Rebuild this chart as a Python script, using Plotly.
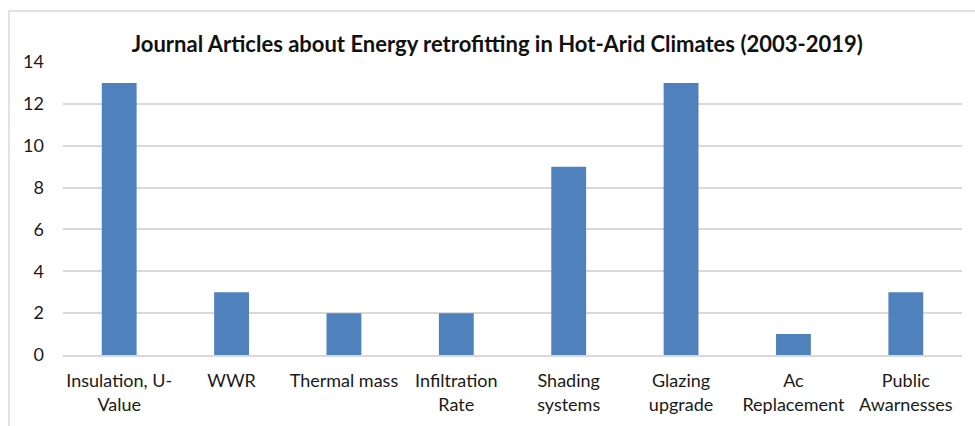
import plotly.graph_objects as go

categories = ["Insulation, U-<br>Value", "WWR", "Thermal mass", "Infiltration<br>Rate",
              "Shading<br>systems", "Glazing<br>upgrade", "Ac<br>Replacement", "Public<br>Awarnesses"]
values = [13, 3, 2, 2, 9, 13, 1, 3]
y_ticks = [0, 2, 4, 6, 8, 10, 12, 14]

fig = go.Figure()
fig.add_trace(go.Bar(x=categories, y=values, marker=dict(color="#4F81BD", line=dict(width=0)),
                     hoverinfo="x+y"))

font_family = "Lato, 'Open Sans', sans-serif"
fig.update_layout(
    width=975, height=426,
    margin=dict(l=63, r=13, t=62, b=71),
    paper_bgcolor="white", plot_bgcolor="white",
    bargap=0.69,
    showlegend=False,
    title=dict(text="<b>Journal Articles about Energy retrofitting in Hot-Arid Climates (2003-2019)</b>",
               x=0.51, xanchor="center", y=0.896, yanchor="middle",
               font=dict(family=font_family, size=22, color="#111111")),
    font=dict(family=font_family, size=18, color="#1a1a1a"),
    xaxis=dict(showgrid=False, showline=True, linecolor="#d9d9d9", linewidth=1.5,
               ticks="", tickfont=dict(size=18), ticklabelstandoff=9),
    yaxis=dict(range=[0, 14], tickvals=y_ticks, showgrid=True, gridcolor="#d9d9d9", gridwidth=1.5,
               zeroline=False, showline=False, ticks="", tickfont=dict(size=18),
               ticklabelstandoff=18),
    shapes=[dict(type="rect", xref="paper", yref="paper",
                 x0=(9 - 63) / 899, x1=1.2, y0=-0.5, y1=1 + (62 - 11) / 293,
                 line=dict(color="#d9d9d9", width=1.5), fillcolor="rgba(0,0,0,0)", layer="below")],
)

fig.write_html("out.html", config={"displayModeBar": False},
               post_script="document.body.style.margin='0';document.body.style.overflow='hidden';")
